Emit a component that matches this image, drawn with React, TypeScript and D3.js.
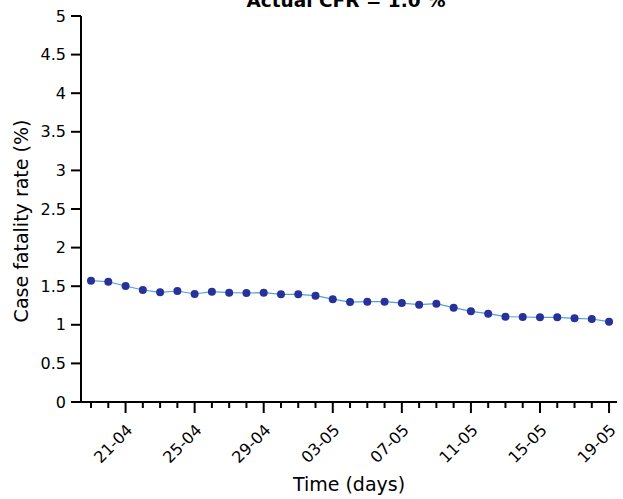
import React from "react";
import * as d3 from "d3";

const days: string[] = [
  "19-04", "20-04", "21-04", "22-04", "23-04", "24-04", "25-04", "26-04", "27-04", "28-04",
  "29-04", "30-04", "01-05", "02-05", "03-05", "04-05", "05-05", "06-05", "07-05", "08-05",
  "09-05", "10-05", "11-05", "12-05", "13-05", "14-05", "15-05", "16-05", "17-05", "18-05", "19-05",
];
const cfr: number[] = [
  1.571, 1.558, 1.503, 1.451, 1.421, 1.438, 1.399, 1.429, 1.416, 1.412,
  1.416, 1.395, 1.395, 1.377, 1.332, 1.295, 1.3, 1.3, 1.282, 1.261,
  1.274, 1.222, 1.174, 1.144, 1.105, 1.101, 1.097, 1.097, 1.084, 1.075, 1.04,
];
const xTickLabels: string[] = ["21-04", "25-04", "29-04", "03-05", "07-05", "11-05", "15-05", "19-05"];
const yTicks: number[] = [0, 0.5, 1, 1.5, 2, 2.5, 3, 3.5, 4, 4.5, 5];
const title = "Actual CFR = 1.0 %";

const W = 623;
const H = 499;
const FONT = "DejaVu Sans, sans-serif";

export default function App() {
  const x = d3.scaleLinear().domain([-1.16, 30.46]).range([71, 617]);
  const y = d3.scaleLinear().domain([0, 5]).range([402, 16]);
  const line = d3
    .line<number>()
    .x((_, i) => x(i))
    .y((d) => y(d));
  const fmt = (v: number) => (Number.isInteger(v) ? String(v) : String(v));

  return (
    <svg
      width={W}
      height={H}
      style={{ position: "absolute", left: 0, top: 0, background: "#fff" }}
      fontFamily={FONT}
    >
      {/* title */}
      <text x={346} y={7} textAnchor="middle" fontSize={18.5} fontWeight="bold" fill="#000">
        {title}
      </text>

      {/* y axis */}
      <line x1={81} x2={81} y1={y(5)} y2={y(0)} stroke="#000" strokeWidth={2} />
      {yTicks.map((t) => (
        <g key={t}>
          <line x1={71} x2={81} y1={y(t)} y2={y(t)} stroke="#000" strokeWidth={2} />
          <text x={66} y={y(t)} dy="0.35em" textAnchor="end" fontSize={16} fill="#000">
            {fmt(t)}
          </text>
        </g>
      ))}
      <text
        transform={`translate(28,${(y(0) + y(5)) / 2 + 12}) rotate(-90)`}
        textAnchor="middle"
        fontSize={19}
        fill="#000"
      >
        Case fatality rate (%)
      </text>

      {/* x axis */}
      <line x1={71} x2={617} y1={402} y2={402} stroke="#000" strokeWidth={2} />
      {days.map((d, i) => {
        const major = xTickLabels.includes(d);
        return (
          <line
            key={d}
            x1={x(i)}
            x2={x(i)}
            y1={402}
            y2={major ? 413 : 408}
            stroke="#000"
            strokeWidth={2}
          />
        );
      })}
      {xTickLabels.map((lab) => {
        const i = days.indexOf(lab);
        return (
          <text
            key={lab}
            transform={`translate(${x(i) + 8},${431}) rotate(-45)`}
            textAnchor="end"
            fontSize={16}
            fill="#000"
          >
            {lab}
          </text>
        );
      })}
      <text x={349} y={491} textAnchor="middle" fontSize={19} fill="#000">
        Time (days)
      </text>

      {/* data */}
      <path d={line(cfr) ?? ""} fill="none" stroke="#4f9fe0" strokeWidth={1.2} />
      {cfr.map((v, i) => (
        <circle key={i} cx={x(i)} cy={y(v)} r={4} fill="#28309a" />
      ))}
    </svg>
  );
}
